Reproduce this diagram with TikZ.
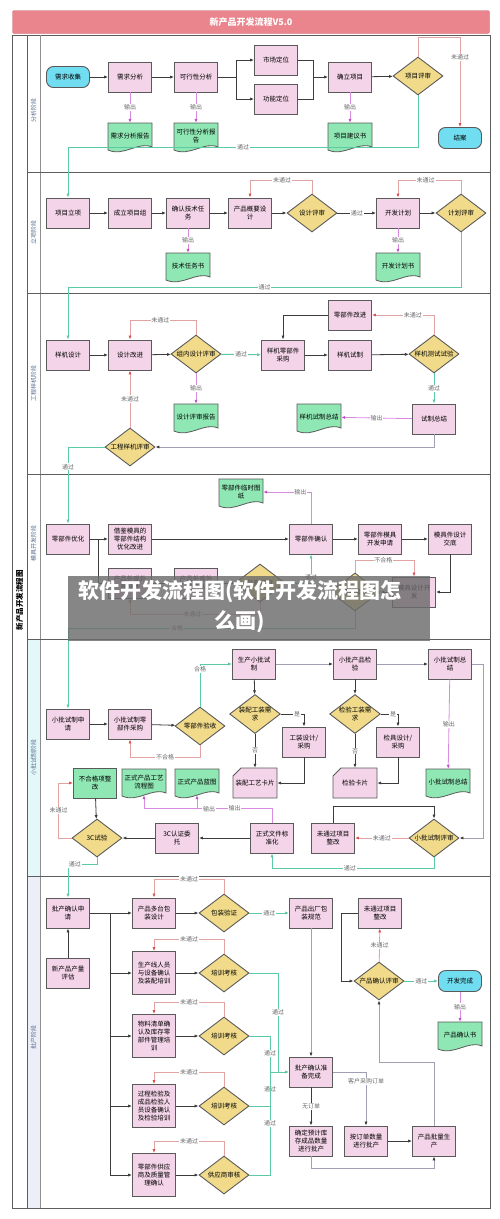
\documentclass[tikz,border=0pt]{standalone}
\usepackage{fontspec}
\setmainfont{Noto Sans CJK SC}
\usetikzlibrary{shapes.geometric,arrows.meta}

\definecolor{procfill}{HTML}{F4D4E8}
\definecolor{docfill}{HTML}{8FE8B4}
\definecolor{decfill}{HTML}{F1DB8A}
\definecolor{termfill}{HTML}{70DDF0}
\definecolor{boxline}{HTML}{5A5A5A}
\definecolor{passc}{HTML}{5CC9A7}
\definecolor{failc}{HTML}{E3A3A3}
\definecolor{failtip}{HTML}{D9534F}
\definecolor{outc}{HTML}{D98BE0}
\definecolor{outtip}{HTML}{C44FCC}
\definecolor{flowc}{HTML}{3C3C3C}
\definecolor{flowlc}{HTML}{A0A0B4}
\definecolor{labc}{HTML}{6A6A6A}
\definecolor{titlefill}{HTML}{EA858D}
\definecolor{titleline}{HTML}{C86B74}
\definecolor{lanec}{HTML}{5B7090}
\definecolor{framec}{HTML}{5E5E5E}
\definecolor{cyanlane}{HTML}{E4F8FA}
\definecolor{lavlane}{HTML}{ECEEF8}

\newcommand{\boxfont}{\fontsize{6.5}{8}\selectfont}

\tikzset{
  proc/.style={rectangle, draw=boxline, fill=procfill, line width=0.9pt, minimum width=43, minimum height=30, inner sep=1pt, align=center, font=\boxfont},
  tall/.style={minimum height=43},
  gbox/.style={proc, fill=docfill},
  dec/.style={diamond, draw=boxline, fill=decfill, line width=0.9pt, aspect=1.3, minimum width=50, minimum height=38, inner sep=0pt, align=center, font=\boxfont},
  term/.style={rectangle, rounded corners=7pt, draw=boxline, fill=termfill, line width=0.9pt, minimum width=43, minimum height=21, font=\boxfont},
  docbox/.style={minimum width=44, minimum height=26, inner sep=0pt, align=center, font=\boxfont},
  cardbox/.style={minimum width=44, minimum height=30, inner sep=0pt, align=center, font=\boxfont},
  flow/.style={draw=flowc, line width=0.8pt, -{Latex[length=4pt,width=3.2pt]}},
  flowlt/.style={draw=flowlc, line width=0.8pt, -{Latex[length=4pt,width=3.2pt,color=flowc]}},
  plain/.style={draw=flowc, line width=0.8pt},
  pass/.style={draw=passc, line width=0.9pt, -{Latex[length=4pt,width=3.2pt]}},
  passl/.style={draw=passc, line width=0.9pt},
  fail/.style={draw=failc, line width=0.8pt, -{Latex[length=4pt,width=3.2pt,color=failtip]}},
  outp/.style={draw=outc, line width=0.8pt, -{Latex[length=4pt,width=3.2pt,color=outtip]}},
  lab/.style={fill=white, inner sep=0.8pt, text=labc, font=\fontsize{6}{7}\selectfont},
  lanelab/.style={rotate=90, text=lanec, font=\fontsize{6}{7}\selectfont},
  titlebar/.style={rectangle, rounded corners=2pt, draw=titleline, fill=titlefill, minimum width=477, minimum height=23, text=white, font=\bfseries\fontsize{9}{10}\selectfont},
}

\newcommand{\docnode}[4]{%
  \filldraw[fill=docfill, draw=boxline, line width=0.8pt] (#2-22,#3-14) -- (#2+22,#3-14) -- (#2+22,#3+10) .. controls (#2+8,#3+4) and (#2-6,#3+20) .. (#2-22,#3+13) -- cycle;
  \node[docbox] (#1) at (#2,#3-1) {#4};
}
\newcommand{\cardnode}[4]{%
  \filldraw[fill=procfill, draw=boxline, line width=0.9pt] (#2-14,#3-15) -- (#2+22,#3-15) -- (#2+22,#3+15) -- (#2-22,#3+15) -- (#2-22,#3-7) -- cycle;
  \node[cardbox] (#1) at (#2,#3) {#4};
}

\begin{document}
\begin{tikzpicture}[x=1pt,y=-1pt]
\useasboundingbox (0,0) rectangle (500,1219);
\fill[white] (0,0) rectangle (500,1219);

\node[titlebar] (title) at (251,22) {新产品开发流程V5.0};

\fill[cyanlane] (27,639) rectangle (40,876);
\fill[lavlane] (27,876) rectangle (40,1208);
\draw[framec, line width=0.9pt] (12,35) rectangle (490,1208);
\draw[framec, line width=0.7pt] (27,35) -- (27,1208);
\draw[framec!70, line width=0.6pt] (40,35) -- (40,1208);
\foreach \y in {172,293,474,639,876}{
	\draw[framec, line width=0.8pt] (27,\y) -- (490,\y);
}
\node[rotate=90, font=\bfseries\fontsize{7.5}{8}\selectfont] (maintitle) at (19.5,600) {新产品开发流程图};
\foreach \y/\t in {110/分析阶段, 232/立项阶段, 383/工程样机阶段, 543/模具开发阶段, 757/小批试制阶段, 1037/批产阶段}{
	\node[lanelab] (lane\y) at (33.5,\y) {\t};
}

\node[term] (xqsj) at (68,77) {需求收集};
\node[proc] (xqfx) at (130,77) {需求分析};
\node[proc] (kxfx) at (196,77) {可行性分析};
\node[proc] (scdw) at (276,60) {市场定位};
\node[proc] (gndw) at (276,99) {功能定位};
\node[proc] (qlxm) at (350,77) {确立项目};
\node[dec] (xmps) at (418,76) {项目评审};
\node[term] (ja) at (460,138) {结案};
\docnode{xqbg}{130}{137}{需求分析报告}
\docnode{kxbg}{196}{137}{可行性分析报\\告}
\docnode{jys}{350}{137}{项目建议书}
\coordinate (sp1) at (236,77);
\coordinate (mg1) at (313,77);

\draw[flow] (xqsj) -- (xqfx);
\draw[flow] (xqfx) -- (kxfx);
\draw[plain] (kxfx) -- (sp1);
\draw[flow] (sp1) |- (scdw);
\draw[flow] (sp1) |- (gndw);
\draw[plain] (scdw) -| (mg1);
\draw[plain] (gndw) -| (mg1);
\draw[flow] (mg1) -- (qlxm);
\draw[flow] (qlxm) -- (xmps);
\draw[fail] (xmps.north) -- ++(0,-19) -| node[lab,pos=0.61]{未通过} (ja.north);
\draw[outp] (xqfx) -- node[lab]{输出} (xqbg);
\draw[outp] (kxfx) -- node[lab]{输出} (kxbg);
\draw[outp] (qlxm) -- node[lab]{输出} (jys);

\node[proc] (xmlx) at (68,213) {项目立项};
\node[proc] (clxmz) at (130,213) {成立项目组};
\node[proc] (qrjs) at (188,213) {确认技术任\\务};
\node[proc] (gysj) at (250,213) {产品概要设\\计};
\node[dec] (sjps) at (312,213) {设计评审};
\node[proc] (kfjh) at (398,213) {开发计划};
\node[dec] (jhps) at (461,213) {计划评审};
\docnode{jsrws}{188}{267}{技术任务书}
\docnode{kfjhs}{398}{267}{开发计划书}

\draw[pass] (xmps.south) -- ++(0,52) -| node[lab,pos=0.25]{通过} (xmlx.north);
\draw[flow] (xmlx) -- (clxmz);
\draw[flow] (clxmz) -- (qrjs);
\draw[flow] (qrjs) -- (gysj);
\draw[flow] (gysj) -- (sjps);
\draw[flow] (sjps) -- node[lab]{通过} (kfjh);
\draw[flow] (kfjh) -- (jhps);
\draw[fail] (sjps.north) -- ++(0,-13) -| node[lab,pos=0.24]{未通过} (gysj.north);
\draw[fail] (jhps.north) -- ++(0,-13) -| node[lab,pos=0.28]{未通过} (kfjh.north);
\draw[outp] (qrjs) -- node[lab]{输出} (jsrws);
\draw[outp] (kfjh) -- node[lab]{输出} (kfjhs);

\node[proc] (yjsj) at (68,355) {样机设计};
\node[proc] (sjgj) at (130,355) {设计改进};
\node[dec] (znps) at (196,354) {组内设计评审};
\node[proc] (lbjcg) at (283,355) {样机零部件\\采购};
\node[proc] (yjsz) at (350,355) {样机试制};
\node[dec] (csy) at (434,354) {样机测试试验};
\node[proc] (lbjgj) at (350,315) {零部件改进};
\docnode{psbg}{196}{418}{设计评审报告}
\docnode{szzjd}{319}{418}{样机试制总结}
\node[proc] (szzj) at (434,419) {试制总结};
\node[dec] (gcps) at (130,447) {工程样机评审};

\draw[pass] (jhps.south) -- ++(0,55) -| node[lab,pos=0.25]{通过} (yjsj.north);
\draw[flow] (yjsj) -- (sjgj);
\draw[flow] (sjgj) -- (znps);
\draw[pass] (znps) -- node[lab]{通过} (lbjcg);
\draw[flow] (lbjcg) -- (yjsz);
\draw[flow] (yjsz) -- (csy);
\draw[fail] (znps.north) -- ++(0,-14) -| node[lab,pos=0.27]{未通过} (sjgj.north);
\draw[outp] (znps) -- node[lab]{输出} (psbg);
\draw[fail] (csy.north) |- node[lab,pos=0.67]{未通过} (lbjgj.east);
\draw[flow] (lbjgj.west) -| (lbjcg.north);
\draw[pass] (csy) -- node[lab]{通过} (szzj);
\draw[outp] (szzj) -- node[lab]{输出} (szzjd);
\draw[flowlt] (szzj.south) |- (gcps.east);
\draw[fail] (gcps) -- node[lab]{未通过} (sjgj);

\node[proc] (lbyh) at (68,539) {零部件优化};
\node[proc] (jjmj) at (130,539) {借鉴模具的\\零部件结构\\优化改进};
\node[proc] (lbjqr) at (311,539) {零部件确认};
\node[proc] (mjsq) at (380,539) {零部件模具\\开发申请};
\node[proc] (mjjd) at (450,539) {模具件设计\\交底};
\docnode{lstz}{241}{493}{零部件临时图\\纸}
\node[proc] (wgsj) at (130,583) {产品外观外\\观设计};
\node[proc] (wgqr) at (196,583) {产品外观外\\观确认};
\node[dec] (wgps) at (260,583) {外观评审};
\node[dec] (mjys) at (355,592) {模具验收};
\node[proc] (mjkf) at (414,592) {模具设计开\\发};

\draw[pass] (gcps.west) -| node[lab,pos=0.63]{通过} (lbyh.north);
\draw[flow] (lbyh) -- (jjmj);
\draw[flow] (jjmj) -- (lbjqr);
\draw[flow] (lbyh.east) -- ++(8,0) |- (wgsj.west);
\draw[flow] (wgsj) -- (wgqr);
\draw[flow] (wgqr) -- (wgps);
\draw[pass] (wgps.east) -| node[lab,pos=0.6]{通过} (lbjqr.south);
\draw[fail] (wgps.south) -- ++(0,12) -| node[lab,pos=0.26]{未通过} (wgsj.south);
\draw[outp] (lbjqr.north) |- node[lab,pos=0.61]{输出} (lstz.east);
\draw[flow] (lbjqr) -- (mjsq);
\draw[flow] (mjsq) -- (mjjd);
\draw[flow] (mjjd.south) |- (mjkf.east);
\draw[flow] (mjkf) -- (mjys);
\draw[fail] (mjys.north) -- ++(0,-12) -| node[lab,pos=0.24]{不合格} (mjkf.north);

\node[proc] (xpsq) at (68,724) {小批试制申\\请};
\node[proc] (xpcg) at (130,724) {小批试制零\\部件采购};
\node[dec] (lbjys) at (200,726) {零部件验收};
\node[proc] (scxp) at (254,664) {生产小批试\\制};
\node[proc] (xpjy) at (355,664) {小批产品检\\验};
\node[proc] (xpzj) at (450,664) {小批试制总\\结};
\node[dec] (zpgz) at (255,714) {装配工装需\\求};
\node[proc] (gzsj) at (304,742) {工装设计/\\采购};
\node[dec] (jygz) at (355,714) {检验工装需\\求};
\node[proc] (jjsj) at (398,742) {检具设计/\\采购};
\cardnode{zpkp}{255}{783}{装配工艺卡片}
\cardnode{jykp}{355}{783}{检验卡片}
\docnode{xpzjd}{448}{783}{小批试制总结}
\node[dec] (xpps) at (434,838) {小批试制评审};
\node[proc] (wtgzg) at (333,838) {未通过项目\\整改};
\node[proc] (bzh) at (272,838) {正式文件标\\准化};
\node[proc] (wt3c) at (177,838) {3C认证委\\托};
\node[dec] (sy3c) at (97,838) {3C试验};
\node[gbox] (bhgzg) at (95,783) {不合格项整\\改};
\docnode{gylct}{144}{783}{正式产品工艺\\流程图}
\docnode{lant}{197}{783}{正式产品蓝图}

\draw[pass] (mjys.south) -- ++(0,17) -| node[lab,pos=0.31]{合格} (xpsq.north);
\draw[flow] (xpsq) -- (xpcg);
\draw[flow] (xpcg) -- (lbjys);
\draw[pass] (lbjys.north) |- node[lab,pos=0.44]{合格} (scxp.west);
\draw[fail] (lbjys.south) -- ++(0,12) -| node[lab,pos=0.25]{不合格} (xpcg.south);
\draw[flowlt] (scxp) -- (xpjy);
\draw[flowlt] (xpjy) -- (xpzj);
\draw[flow] (scxp) -- (zpgz);
\draw[flow] (zpgz.east) -| node[lab,pos=0.35]{是} (gzsj.north);
\draw[flow] (zpgz) -- node[lab]{否} (zpkp);
\draw[flow] (gzsj.south) |- (zpkp.east);
\draw[flow] (xpjy) -- (jygz);
\draw[flow] (jygz.east) -| node[lab,pos=0.36]{是} (jjsj.north);
\draw[flow] (jygz) -- node[lab]{否} (jykp);
\draw[flow] (jjsj.south) |- (jykp.east);
\draw[outp] (xpzj) -- node[lab]{输出} (xpzjd);
\draw[flowlt] (xpzj.east) -- ++(11,0) |- (xpps.east);
\draw[fail] (xpps) -- node[lab]{未通过} (wtgzg);
\draw[flow] (wtgzg.north) -- ++(0,-16) -| (xpps.north);
\draw[pass] (xpps.south) -- ++(0,11) -| node[lab,pos=0.26]{通过} (bzh.south);
\draw[outp] (bzh.north) -- ++(0,-14) -| (gylct.south);
\draw[outp] (bzh.north) -- ++(0,-14) -| node[lab,pos=0.25]{输出} (lant.south);
\node[lab] (outlab) at (209,809) {输出};
\draw[flow] (bzh) -- (wt3c);
\draw[flow] (wt3c) -- (sy3c);
\draw[fail] (sy3c.west) -- ++(-13,0) |- node[lab,pos=0.25]{未通过} (bhgzg.west);
\draw[flow] (bhgzg) -- (sy3c);

\node[proc] (pcsq) at (68,913) {批产确认申\\请};
\node[proc] (clpg) at (68,973) {新产品产量\\评估};
\coordinate (tr) at (110,913);
\coordinate (trb) at (110,1175);
\node[proc] (bzsj) at (154,913) {产品多台包\\装设计};
\node[proc,tall] (pxry) at (154,973) {生产线人员\\与设备确认\\及装配培训};
\node[proc,tall] (wlqd) at (154,1036) {物料清单确\\认及库存零\\部件管理培\\训};
\node[proc,tall] (gcjy) at (154,1106) {过程检验及\\成品检验人\\员设备确认\\及检验培训};
\node[proc,tall] (gysqr) at (154,1175) {零部件供应\\商及质量管\\理确认};
\node[dec] (bzyz) at (224,913) {包装验证};
\node[dec] (khj1) at (224,973) {培训考核};
\node[dec] (khj2) at (224,1036) {培训考核};
\node[dec] (khj3) at (224,1106) {培训考核};
\node[dec] (gyssh) at (224,1175) {供应商审核};
\node[proc] (bzgf) at (311,913) {产品出厂包\\装规范};
\node[proc] (zbwc) at (311,1072) {批产确认准\\备完成};
\node[proc] (kcpc) at (311,1141) {确定预计库\\存成品数量\\进行批产};
\node[proc] (ddpc) at (366,1141) {按订单数量\\进行批产};
\node[proc] (plsc) at (434,1141) {产品批量生\\产};
\node[dec] (qrps) at (379,981) {产品确认评审};
\node[proc] (wtgzg2) at (380,913) {未通过项目\\整改};
\node[term] (kfwc) at (460,981) {开发完成};
\docnode{qrs}{460}{1036}{产品确认书}
\coordinate (hb1) at (278,1072);
\coordinate (hb2) at (270,1072);

\draw[pass] (sy3c.south) -- ++(0,7) -| node[lab,pos=0.38]{通过} (pcsq.north);
\draw[flow] (clpg) -- (pcsq);
\draw[plain] (pcsq.east) -- (tr) -- (trb);
\draw[flow] (tr) -- (bzsj);
\foreach \n in {pxry,wlqd,gcjy,gysqr}{
	\draw[flow] (tr |- \n) -- (\n);
}
\foreach \b/\d in {bzsj/bzyz, pxry/khj1, wlqd/khj2, gcjy/khj3, gysqr/gyssh}{
	\draw[flow] (\b) -- (\d);
	\draw[fail] (\d.north) -- ++(0,-14) -| node[lab,pos=0.25]{未通过} (\b.north);
}
\draw[pass] (bzyz) -- node[lab]{通过} (bzgf);
\draw[flowlt] (bzgf) -- (zbwc);
\draw[passl] (khj1.east) -| node[lab,pos=0.7]{通过} (hb1);
\draw[passl] (khj2.east) -| node[lab,pos=0.74]{通过} (hb2);
\draw[passl] (khj3.east) -| node[lab,pos=0.74]{通过} (hb2);
\draw[passl] (gyssh.east) -| node[lab,pos=0.75]{通过} (hb2);
\draw[pass] (hb2) -- (zbwc.west);
\draw[flow] (zbwc) -- node[lab]{无订单} (kcpc);
\draw[flowlt] (zbwc.east) -| node[lab,pos=0.59]{客户采购订单} (ddpc.north);
\draw[flow] (ddpc) -- (plsc);
\draw[flowlt] (kcpc.south) -- ++(0,12) -| (plsc.south);
\draw[flowlt] (plsc.north) -- ++(0,-63) -| (qrps.south);
\draw[fail] (qrps) -- node[lab]{未通过} (wtgzg2);
\draw[flow] (wtgzg2.west) -- ++(-17,0) |- (qrps.west);
\draw[pass] (qrps) -- node[lab]{通过} (kfwc);
\draw[outp] (kfwc) -- node[lab]{输出} (qrs);

\fill[gray!85!black, opacity=0.82] (68,576) rectangle (430,641);
\node[text=white, align=center, font=\bfseries\fontsize{21}{30}\selectfont] (banner) at (240,607) {软件开发流程图(软件开发流程图怎\\么画)};

\end{tikzpicture}
\end{document}
